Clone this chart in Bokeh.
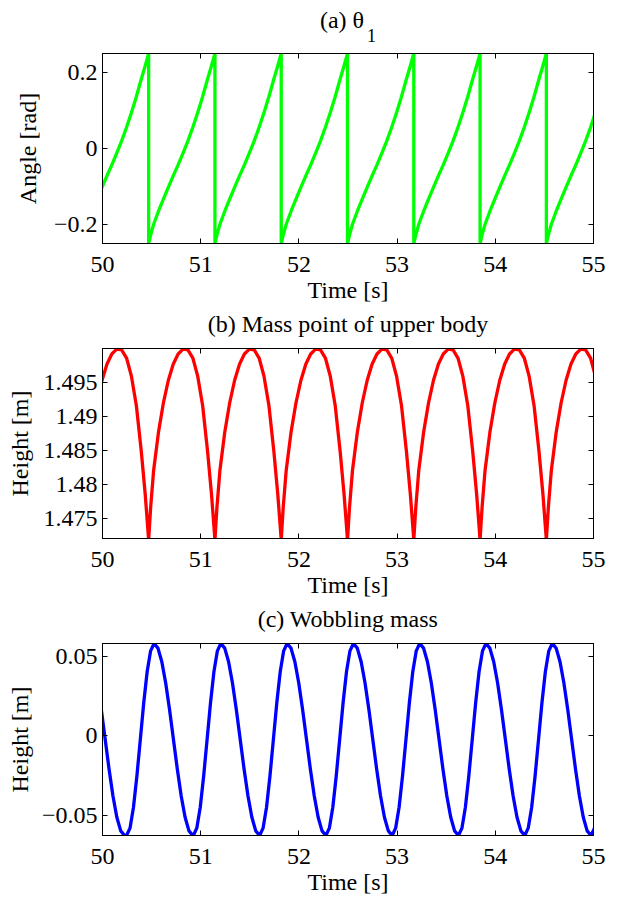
from bokeh.plotting import figure
from bokeh.layouts import column
from bokeh.models import FixedTicker, LinearAxis, Range1d
from bokeh.embed import file_html
from bokeh.resources import INLINE

# ---------------- data ----------------
time_ticks = [50, 51, 52, 53, 54, 55]
time_tick_labels = ["50", "51", "52", "53", "54", "55"]

# start of each stride (theta_1 resets from +0.25 to -0.25; cusp of upper-body height)
step_times = [49.795, 50.47, 51.145, 51.82, 52.495, 53.17, 53.845, 54.52]
# time inside one stride [s]
cycle_phase = [0.0, 0.02, 0.05, 0.1, 0.15, 0.2, 0.25, 0.3, 0.35, 0.4,
               0.45, 0.5, 0.55, 0.6, 0.64, 0.675]
# (a) theta_1 [rad] over one stride
theta1_cycle = [-0.25, -0.228, -0.2, -0.165, -0.133, -0.102, -0.072, -0.043,
                -0.012, 0.02, 0.056, 0.095, 0.137, 0.183, 0.218, 0.25]
# (b) height of upper-body mass point [m] over one stride
upper_cycle = [1.4719, 1.4766, 1.482, 1.4877, 1.492, 1.4953, 1.4977, 1.4992,
               1.4999, 1.4998, 1.4986, 1.4959, 1.4916, 1.4849, 1.4786, 1.4719]

# (c) wobbling mass: times of the troughs, and one cycle from trough to trough
wobble_trough_times = [49.55, 50.245, 50.925, 51.6, 52.275, 52.95, 53.625, 54.3, 54.975]
wobble_phase = [0.0, 0.035, 0.07, 0.105, 0.14, 0.175, 0.21, 0.245, 0.28,
                0.3195, 0.359, 0.3985, 0.438, 0.4775, 0.517, 0.5565, 0.596, 0.6355, 0.675]
wobble_cycle = [-0.0625, -0.0579, -0.0449, -0.0253, -0.0023, 0.0208, 0.0404, 0.0534, 0.058,
                0.0551, 0.0465, 0.0332, 0.0164, -0.0023, -0.0209, -0.0377, -0.051, -0.0596, -0.0625]

a_ticks = [-0.2, 0.0, 0.2]
a_tick_labels = ["\u22120.2", "0", "0.2"]
b_ticks = [1.475, 1.48, 1.485, 1.49, 1.495]
b_tick_labels = ["1.475", "1.48", "1.485", "1.49", "1.495"]
c_ticks = [-0.05, 0.0, 0.05]
c_tick_labels = ["\u22120.05", "0", "0.05"]

FONT = "Liberation Serif"
FS = "24px"
NB = "\u00a0"


def tile(starts, phase, vals):
    t, y = [], []
    for s in starts:
        for ph, v in zip(phase, vals):
            t.append(s + ph)
            y.append(v)
    return t, y


def style_axis(ax, ticks, labels, show_labels=True, standoff=5):
    ax.ticker = FixedTicker(ticks=ticks)
    ax.major_label_overrides = {k: v for k, v in zip(ticks, labels)}
    ax.major_tick_in = 5
    ax.major_tick_out = 0
    ax.minor_tick_line_color = None
    ax.axis_line_color = "black"
    ax.major_tick_line_color = "black"
    ax.major_label_text_font = FONT
    ax.major_label_text_color = "black"
    ax.major_label_standoff = standoff
    ax.axis_label_text_font = FONT
    ax.axis_label_text_font_size = FS
    ax.axis_label_text_font_style = "normal"
    ax.axis_label_text_color = "black"
    if show_labels:
        ax.major_label_text_font_size = FS
    else:
        ax.major_label_text_font_size = "1px"
        ax.major_label_text_color = None
        ax.major_label_standoff = 0


def panel(y0, y1, yticks, ylabels, height, top, bottom, color, t, y,
          title, title_standoff, ylab, ylab_standoff):
    p = figure(width=628, height=height, x_range=Range1d(50, 55), y_range=Range1d(y0, y1),
               output_backend="svg", toolbar_location=None,
               min_border_left=102, min_border_right=35,
               min_border_top=top, min_border_bottom=bottom)
    p.xgrid.visible = False
    p.ygrid.visible = False
    p.outline_line_color = "black"
    p.outline_line_width = 1
    p.outline_line_alpha = 1
    p.background_fill_color = "white"
    p.border_fill_color = "white"

    style_axis(p.xaxis[0], time_ticks, time_tick_labels, True, 13)
    p.xaxis[0].axis_label = "Time [s]"
    p.xaxis[0].axis_label_standoff = 2
    style_axis(p.yaxis[0], yticks, ylabels, True, 5)
    p.yaxis[0].axis_label = ylab
    p.yaxis[0].axis_label_standoff = ylab_standoff

    top_ax = LinearAxis()
    style_axis(top_ax, time_ticks, time_tick_labels, False)
    p.add_layout(top_ax, "above")
    right_ax = LinearAxis()
    style_axis(right_ax, yticks, ylabels, False)
    p.add_layout(right_ax, "right")

    if isinstance(title, tuple):
        main, sub, sub_x, sub_standoff = title
        sub_ax = LinearAxis()
        sub_ax.ticker = FixedTicker(ticks=[sub_x])
        sub_ax.major_label_overrides = {sub_x: sub}
        sub_ax.major_tick_line_color = None
        sub_ax.minor_tick_line_color = None
        sub_ax.axis_line_color = None
        sub_ax.major_label_text_font = FONT
        sub_ax.major_label_text_font_size = "18px"
        sub_ax.major_label_text_color = "black"
        sub_ax.major_label_standoff = sub_standoff
        sub_ax.axis_label = main
        sub_ax.axis_label_text_font = FONT
        sub_ax.axis_label_text_font_size = FS
        sub_ax.axis_label_text_font_style = "normal"
        sub_ax.axis_label_text_color = "black"
        sub_ax.axis_label_standoff = title_standoff
        p.add_layout(sub_ax, "above")
    else:
        top_ax.axis_label = title
        top_ax.axis_label_standoff = title_standoff

    p.line(t, y, line_width=3.3, line_color=color, line_join="round")
    return p


ta, ya = tile(step_times, cycle_phase, theta1_cycle)
tb, yb = tile(step_times, cycle_phase, upper_cycle)
tc, yc = tile(wobble_trough_times, wobble_phase, wobble_cycle)

pa = panel(-0.25, 0.25, a_ticks, a_tick_labels, 305, 53, 60, "#00ff00", ta, ya,
           ("(a) \u03b8" + NB * 2, "1", 52.74, 6), -7, "Angle [rad]", 10)
pb = panel(1.4721, 1.5, b_ticks, b_tick_labels, 295, 43, 60, "#ff0000", tb, yb,
           "(b) Mass point of upper body", 12, "Height [m]", 8)
pc = panel(-0.0625, 0.058, c_ticks, c_tick_labels, 299, 43, 64, "#0000ff", tc, yc,
           "(c) Wobbling mass", 12, "Height [m]", 6)

layout = column(pa, pb, pc, spacing=0)
open("out.html", "w").write(file_html(layout, INLINE))
